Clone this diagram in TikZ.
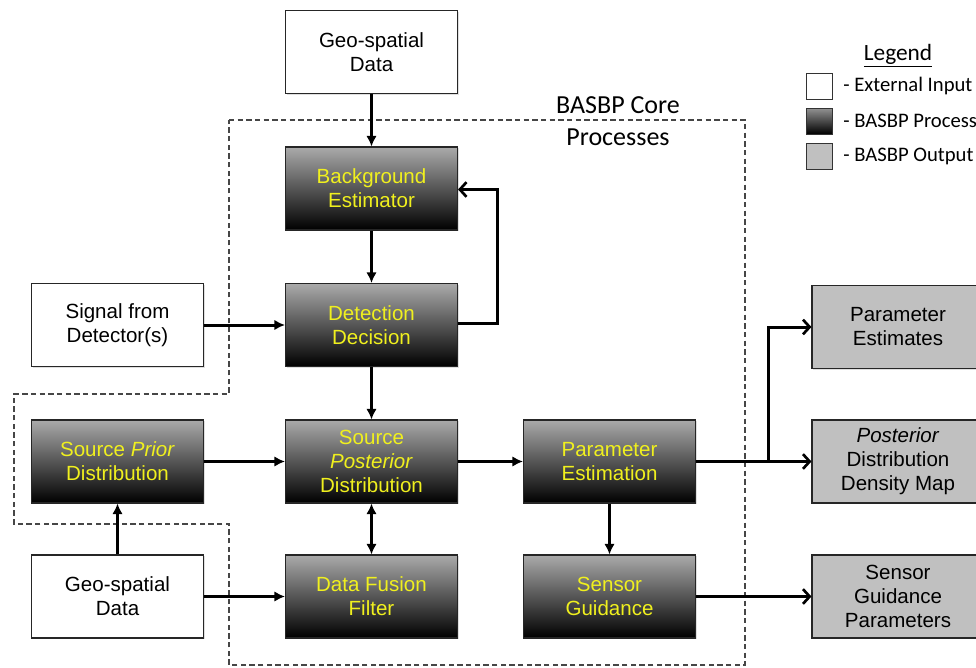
\documentclass[tikz,border=0pt]{standalone}
\usepackage{fontspec}
\setmainfont{Liberation Sans}
\newfontfamily\calib{Carlito}
\usetikzlibrary{arrows.meta,shadows}
\definecolor{procyel}{RGB}{240,240,30}
\definecolor{outgray}{RGB}{192,192,192}
\definecolor{procTop}{RGB}{170,170,170}
\definecolor{dashgray}{RGB}{70,70,70}
\tikzset{
  boxbase/.style={draw=black!85, line width=0.8pt, minimum width=129pt, minimum height=62.25pt, inner sep=0pt, align=center, font=\fontsize{15.4}{18}\selectfont,
    drop shadow={opacity=0.25, shadow xshift=1pt, shadow yshift=-1pt}},
  extbox/.style={boxbase, fill=white},
  procbox/.style={boxbase, top color=procTop, bottom color=black, text=procyel},
  outbox/.style={boxbase, fill=outgray},
  conn/.style={line width=2.25pt, -{Latex[length=8pt,width=8pt]}},
  openconn/.style={line width=2.25pt, -{Straight Barb[length=5pt,width=11pt,line width=2pt]}},
  corebound/.style={draw=dashgray, line width=0.8pt, dash pattern=on 4pt off 2.5pt},
  legbox/.style={draw=black!80, line width=0.7pt, minimum width=20pt, minimum height=19.5pt, inner sep=0pt},
  legtext/.style={anchor=west, font=\calib\fontsize{15.5}{18}\selectfont, inner sep=0pt},
}
\begin{document}
\begin{tikzpicture}[x=0.75pt, y=-0.75pt]
\path[use as bounding box] (0,0) rectangle (976,668);
\clip (0,0) rectangle (976,668);
% core boundary
\draw[corebound] (229,120) -- (745,120) -- (745,665) -- (229,665) -- (229,524) -- (14,524) -- (14,394) -- (229,394) -- cycle;
\node[font=\calib\fontsize{19.5}{23.5}\selectfont, align=center] (corelbl) at (618,121) {BASBP Core\\Processes};
% nodes
\node[extbox] (geoT) at (371.5,52) {Geo-spatial\\Data};
\node[procbox] (bg) at (371.5,188.5) {Background\\Estimator};
\node[procbox] (det) at (371.5,325) {Detection\\Decision};
\node[extbox] (sig) at (117.5,325) {Signal from\\Detector(s)};
\node[procbox] (prior) at (117.5,461.5) {Source \textit{Prior}\\Distribution};
\node[procbox] (post) at (371.5,461.5) {Source\\\textit{Posterior}\\Distribution};
\node[procbox] (pest) at (609.5,461.5) {Parameter\\Estimation};
\node[extbox] (geoB) at (117.5,596.5) {Geo-spatial\\Data};
\node[procbox] (dff) at (371.5,596.5) {Data Fusion\\Filter};
\node[procbox] (sg) at (609.5,596.5) {Sensor\\Guidance};
\node[outbox] (ope) at (898,327) {Parameter\\Estimates};
\node[outbox] (opd) at (898,461.5) {\textit{Posterior}\\Distribution\\Density Map};
\node[outbox] (osg) at (898,596.5) {Sensor\\Guidance\\Parameters};
% connectors
\draw[conn] (geoT) -- (bg);
\draw[conn] (bg) -- (det);
\coordinate (fbA) at (497.5,323.5);
\coordinate (fbB) at (497.5,189.5);
\draw[openconn] (det.east |- fbA) -- (fbA) -- (fbB) -- (bg.east |- fbB);
\draw[conn] (sig) -- (det);
\draw[conn] (det) -- (post);
\draw[conn] (prior) -- (post);
\draw[line width=2.25pt, {Latex[length=8pt,width=8pt]}-{Latex[length=8pt,width=8pt]}] (post) -- (dff);
\draw[conn] (geoB) -- (prior);
\draw[conn] (geoB) -- (dff);
\draw[conn] (post) -- (pest);
\coordinate (br) at (768.5,461.5);
\draw[openconn] (pest) -- (opd);
\draw[openconn] (br) -- (br |- ope) -- (ope);
\draw[conn] (pest) -- (sg);
\draw[openconn] (sg) -- (osg);
% legend
\node[font=\calib\fontsize{17.5}{20}\selectfont, inner sep=0pt] (legt) at (898,56) {\underline{Legend}};
\node[legbox, fill=white] (lb1) at (819.5,86) {};
\node[legbox, top color=gray!85, bottom color=black] (lb2) at (819.5,121) {};
\node[legbox, fill=outgray] (lb3) at (819.5,156.5) {};
\node[legtext] (lt1) at (843,86) {- External Input};
\node[legtext] (lt2) at (843,121) {- BASBP Process};
\node[legtext] (lt3) at (843,156.5) {- BASBP Output};
\end{tikzpicture}
\end{document}
